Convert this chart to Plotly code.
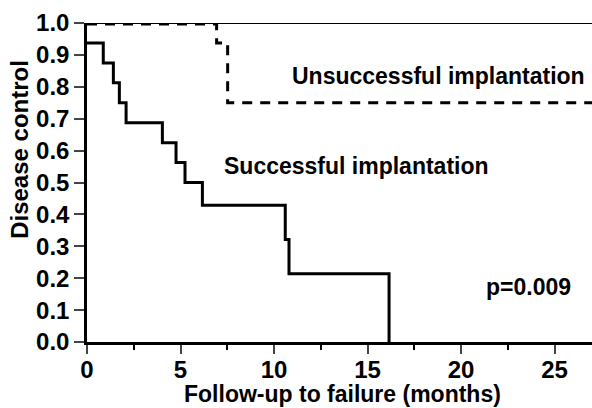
import plotly.graph_objects as go

# Successful implantation (Kaplan-Meier steps)
succ_t = [0, 0.87, 1.41, 1.73, 2.09, 4.03, 4.76, 5.24, 6.17, 10.6, 10.8, 16.15]
succ_s = [0.9375, 0.875, 0.8125, 0.75, 0.6875, 0.625, 0.5625, 0.5, 0.4286, 0.3214, 0.2143, 0.0]

# Unsuccessful implantation
uns_t = [0, 6.93, 7.52, 27]
uns_s = [0.997, 0.9375, 0.75, 0.75]

x_ticks = [0, 5, 10, 15, 20, 25]
y_ticks = [0.0, 0.1, 0.2, 0.3, 0.4, 0.5, 0.6, 0.7, 0.8, 0.9, 1.0]

FONT = "Liberation Sans, Arial, sans-serif"

fig = go.Figure()
fig.add_trace(go.Scatter(x=succ_t, y=succ_s, mode="lines", line_shape="hv",
                         line=dict(color="black", width=3), showlegend=False, cliponaxis=False))
fig.add_trace(go.Scatter(x=uns_t, y=uns_s, mode="lines", line_shape="hv",
                         line=dict(color="black", width=3, dash="10px,8px"), showlegend=False, cliponaxis=False))

fig.update_layout(
    width=592, height=408,
    margin=dict(l=87, r=0, t=23, b=66),
    plot_bgcolor="white", paper_bgcolor="white",
    font=dict(family=FONT, color="black"),
    xaxis=dict(range=[0, 27], tickvals=x_ticks, ticktext=[f"<b>{v}</b>" for v in x_ticks],
               ticks="outside", ticklen=9, tickwidth=2, ticklabelstandoff=-5,
               showline=True, linewidth=2.5, linecolor="black", mirror=False,
               showgrid=False, zeroline=False,
               tickfont=dict(size=24, family=FONT),
               minor=dict(tickvals=[2.5, 7.5, 12.5, 17.5, 22.5], ticks="outside", ticklen=5, tickwidth=2, tickcolor="black")),
    yaxis=dict(range=[0, 1.0], tickvals=y_ticks, ticktext=[f"<b>{v:.1f}</b>" for v in y_ticks],
               ticks="outside", ticklen=10, tickwidth=2,
               showline=True, linewidth=2.5, linecolor="black",
               showgrid=False, zeroline=False,
               tickfont=dict(size=24, family=FONT)),
)

# top border line
fig.add_shape(type="line", xref="paper", yref="y", x0=0, x1=1, y0=1.0, y1=1.0,
              line=dict(color="black", width=2))

fig.add_annotation(text="<b>Follow-up to failure (months)</b>", xref="paper", yref="paper",
                   x=0.505, y=-0.162, showarrow=False,
                   font=dict(size=23), xanchor="center", yanchor="middle")
fig.add_annotation(text="<b>Disease control</b>", xref="paper", yref="paper",
                   x=-0.135, y=0.605, textangle=-90, showarrow=False,
                   font=dict(size=24), xanchor="center", yanchor="middle")
fig.add_annotation(text="<b>Unsuccessful implantation</b>", x=10.86, y=0.834, showarrow=False,
                   xanchor="left", yanchor="middle", font=dict(size=23))
fig.add_annotation(text="<b>Successful implantation</b>", x=7.22, y=0.552, showarrow=False,
                   xanchor="left", yanchor="middle", font=dict(size=23))
fig.add_annotation(text="<b>p=0.009</b>", x=21.2, y=0.172, showarrow=False,
                   xanchor="left", yanchor="middle", font=dict(size=23))

fig.write_html("out.html")
